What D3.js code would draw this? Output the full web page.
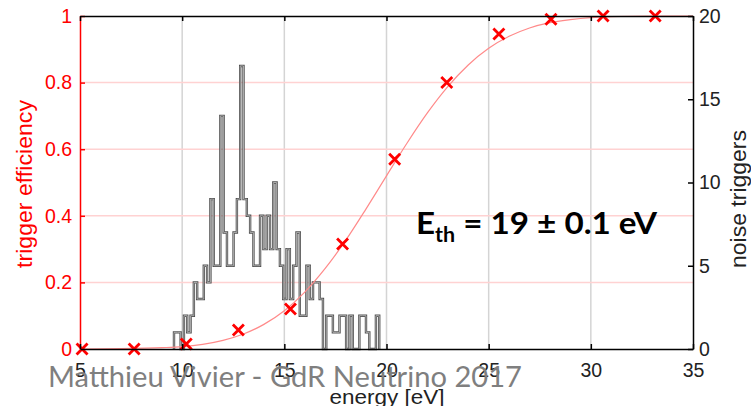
<!DOCTYPE html>
<html>
<head>
<meta charset="utf-8">
<script src="https://cdn.jsdelivr.net/npm/d3@7"></script>
<style>
  body { margin: 0; background: #fff; }
  svg { display: block; }
</style>
</head>
<body>
<div id="vis"></div>
<script>
// trigger efficiency measurements (red crosses)
const effEnergy = [5.1, 7.65, 10.2, 12.75, 15.3, 17.85, 20.4, 22.95, 25.5, 28.05, 30.6, 33.15];
const effValue  = [0, 0, 0.015, 0.057, 0.12, 0.315, 0.57, 0.80, 0.946, 0.99, 1.0, 1.0];

// fitted curve
const fitEnergy = [5, 7, 9, 10, 11, 12, 13, 14, 15, 16, 17, 18, 19, 20, 21, 22, 23, 24, 25, 26, 27, 28, 29, 30, 31, 33, 35];
const fitValue  = [0, 0.001, 0.004, 0.007, 0.014, 0.026, 0.045, 0.074, 0.115, 0.171, 0.242, 0.326, 0.421, 0.52, 0.618, 0.709, 0.788, 0.853, 0.903, 0.939, 0.964, 0.98, 0.989, 0.995, 0.998, 1.0, 1.0];

// noise trigger histogram (counts per bin)
const histStart = 9.6;
const histWidth = 0.162;
const histCounts = [1, 1, 0, 2, 1, 2, 4, 3, 3, 5, 4, 9, 5, 5, 14, 7, 5, 5, 7, 9, 17, 9, 8, 7, 5, 5, 8, 6, 8, 6,
                    10, 6, 5, 3, 6, 3, 5, 7, 2, 2, 5, 3, 4, 4, 3, 0, 2, 2, 1, 1, 2, 2, 0, 2, 0, 0, 2, 2, 1, 0, 0, 2];

const xTicks = [5, 10, 15, 20, 25, 30, 35];
const effTicks = [0, 0.2, 0.4, 0.6, 0.8, 1];
const noiseTicks = [0, 5, 10, 15, 20];

const WIDTH = 751, HEIGHT = 406;
const MARGINS = {left: 80, right: 58, top: 16, bottom: 57};
const PLOT_W = WIDTH - MARGINS.left - MARGINS.right;
const PLOT_H = HEIGHT - MARGINS.top - MARGINS.bottom;

const svg = d3.select('#vis').append('svg')
  .attr('width', WIDTH)
  .attr('height', HEIGHT)
  .style('font-family', '"Liberation Sans", Arial, Helvetica, sans-serif');

const X = d3.scaleLinear().domain([5, 35]).range([MARGINS.left, MARGINS.left + PLOT_W]);
const Y_EFF = d3.scaleLinear().domain([0, 1]).range([MARGINS.top + PLOT_H, MARGINS.top]);
const Y_NOISE = d3.scaleLinear().domain([0, 20]).range([MARGINS.top + PLOT_H, MARGINS.top]);

// grid
svg.append('g').selectAll('line')
  .data(xTicks.slice(1, -1))
  .enter().append('line')
    .attr('x1', d => X(d)).attr('x2', d => X(d))
    .attr('y1', Y_EFF(0)).attr('y2', Y_EFF(1))
    .attr('stroke', '#d4d4d4').attr('stroke-width', 1.5);

svg.append('g').selectAll('line')
  .data(effTicks.slice(1, -1))
  .enter().append('line')
    .attr('x1', X(5)).attr('x2', X(35))
    .attr('y1', d => Y_EFF(d)).attr('y2', d => Y_EFF(d))
    .attr('stroke', '#ffd2d2').attr('stroke-width', 1.5);

// histogram as stairs
const histPts = [{e: histStart, c: 0}];
histCounts.forEach((c, i) => histPts.push({e: histStart + i * histWidth, c: c}));
histPts.push({e: histStart + histCounts.length * histWidth, c: 0});

const stairs = d3.line()
  .x(d => X(d.e))
  .y(d => Y_NOISE(d.c))
  .curve(d3.curveStepAfter);

svg.append('path')
  .attr('d', stairs(histPts))
  .attr('fill', 'none')
  .attr('stroke', '#505050')
  .attr('stroke-width', 2.4);
svg.append('path')
  .attr('d', stairs(histPts))
  .attr('fill', 'none')
  .attr('stroke', '#b4b4b4')
  .attr('stroke-width', 0.9);

// fit curve
const fitLine = d3.line()
  .x((d, i) => X(fitEnergy[i]))
  .y(d => Y_EFF(d))
  .curve(d3.curveMonotoneX);

svg.append('path')
  .attr('d', fitLine(fitValue))
  .attr('fill', 'none')
  .attr('stroke', '#ff8a8a')
  .attr('stroke-width', 1.2);

// crosses
svg.append('g').selectAll('path')
  .data(effValue)
  .enter().append('path')
    .attr('transform', (d, i) => 'translate(' + X(effEnergy[i]) + ',' + Y_EFF(d) + ')')
    .attr('d', 'M-5.5,-5.5L5.5,5.5M-5.5,5.5L5.5,-5.5')
    .attr('stroke', '#ff0000')
    .attr('stroke-width', 2.8)
    .attr('fill', 'none');

// axes
const leftAxis = svg.append('g')
  .attr('transform', 'translate(' + MARGINS.left + ',0)')
  .call(d3.axisLeft(Y_EFF).tickValues(effTicks).tickFormat(d => String(d))
    .tickSizeInner(-5).tickSizeOuter(0).tickPadding(8));
leftAxis.selectAll('path, line').attr('stroke', '#ff0000').attr('stroke-width', 1.5);
leftAxis.selectAll('text').attr('fill', '#ff0000').attr('font-size', '19.5px')
  .attr('font-family', '"Liberation Sans", Arial, sans-serif');

const bottomAxis = svg.append('g')
  .attr('transform', 'translate(0,' + Y_EFF(0) + ')')
  .call(d3.axisBottom(X).tickValues(xTicks).tickSizeInner(-5).tickSizeOuter(0).tickPadding(14));
bottomAxis.selectAll('path, line').attr('stroke', '#000').attr('stroke-width', 1.5);
bottomAxis.selectAll('text').attr('fill', '#222').attr('font-size', '19.5px')
  .attr('font-family', '"Liberation Sans", Arial, sans-serif');

const topAxis = svg.append('g')
  .attr('transform', 'translate(0,' + Y_EFF(1) + ')')
  .call(d3.axisTop(X).tickValues(xTicks).tickSizeInner(-5).tickSizeOuter(0).tickFormat(''));
topAxis.selectAll('path, line').attr('stroke', '#000').attr('stroke-width', 1.5);

const rightAxis = svg.append('g')
  .attr('transform', 'translate(' + X(35) + ',0)')
  .call(d3.axisRight(Y_NOISE).tickValues(noiseTicks).tickSizeInner(-5).tickSizeOuter(0).tickPadding(6));
rightAxis.selectAll('path, line').attr('stroke', '#000').attr('stroke-width', 1.5);
rightAxis.selectAll('text').attr('fill', '#222').attr('font-size', '19.5px')
  .attr('font-family', '"Liberation Sans", Arial, sans-serif');

// axis labels
svg.append('text')
  .attr('transform', 'translate(32,184) rotate(-90)')
  .attr('text-anchor', 'middle')
  .attr('fill', '#ff0000')
  .attr('font-size', '22px')
  .attr('textLength', 168)
  .attr('lengthAdjust', 'spacingAndGlyphs')
  .text('trigger efficiency');

svg.append('text')
  .attr('transform', 'translate(746,199) rotate(-90)')
  .attr('text-anchor', 'middle')
  .attr('fill', '#222')
  .attr('font-size', '22px')
  .attr('textLength', 138)
  .attr('lengthAdjust', 'spacingAndGlyphs')
  .text('noise triggers');

svg.append('text')
  .attr('x', 387).attr('y', 404)
  .attr('text-anchor', 'middle')
  .attr('fill', '#222')
  .attr('font-size', '21px')
  .attr('textLength', 115)
  .attr('lengthAdjust', 'spacingAndGlyphs')
  .text('energy [eV]');

// threshold annotation
const eth = svg.append('text')
  .attr('x', 416).attr('y', 234)
  .attr('fill', '#000')
  .attr('font-family', 'Lato, "Open Sans", sans-serif')
  .attr('font-weight', 'bold')
  .attr('font-size', '31px')
  .attr('textLength', 241)
  .attr('lengthAdjust', 'spacingAndGlyphs');
eth.append('tspan').text('E');
eth.append('tspan').attr('font-size', '20px').attr('dy', 8).text('th');
eth.append('tspan').attr('dy', -8).text(' = 19 \u00b1 0.1 eV');

// watermark
svg.append('text')
  .attr('x', 48).attr('y', 387)
  .attr('fill', '#7f7f7f')
  .attr('font-family', 'Lato, "Open Sans", sans-serif')
  .attr('font-size', '28px')
  .attr('textLength', 474)
  .attr('lengthAdjust', 'spacingAndGlyphs')
  .text('Matthieu Vivier - GdR Neutrino 2017');
</script>
</body>
</html>
